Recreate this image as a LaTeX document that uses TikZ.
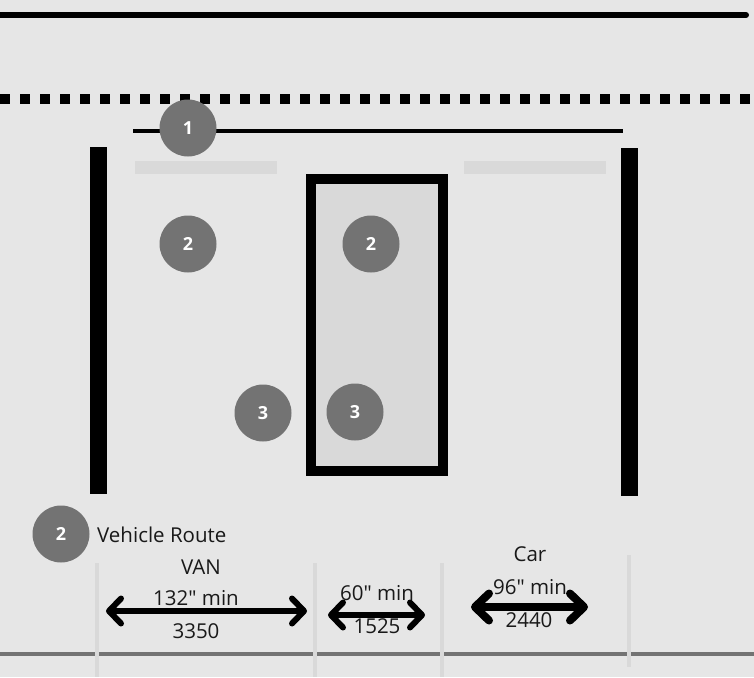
\documentclass[tikz,border=0pt]{standalone}
\usepackage{fontspec}
\newfontfamily\labfont{Open Sans}
\usepackage{xcolor}
\usetikzlibrary{arrows.meta}
\definecolor{paper}{HTML}{E6E6E6}
\definecolor{pale}{HTML}{D9D9D9}
\definecolor{badgegrey}{HTML}{737373}
\tikzset{
  wall/.style={fill=black},
  paleband/.style={fill=pale},
  badge/.style={circle, fill=badgegrey, text=white, minimum size=57pt, inner sep=0pt, font=\labfont\fontsize{18}{18}\selectfont\bfseries},
  lab/.style={text=black!90, inner sep=0pt, font=\labfont\fontsize{20.5}{21}\selectfont},
  tick/.style={draw=pale, line width=3.5pt},
  dimline/.style={draw=black, line width=6pt, {Straight Barb[round, length=12pt, width=25pt, line width=6pt]}-{Straight Barb[round, length=12pt, width=25pt, line width=6pt]}},
  dimwide/.style={draw=black, line width=8pt, {Straight Barb[round, length=14pt, width=27pt, line width=8pt]}-{Straight Barb[round, length=14pt, width=27pt, line width=8pt]}},
}
\begin{document}
\begin{tikzpicture}[x=1pt, y=-1pt]
  \fill[paper] (0,0) rectangle (754,677);
  \useasboundingbox (0,0) rectangle (754,677);

  % street edge and dotted line
  \draw[line width=6pt, line cap=round] (0,15)--(746,15);
  \draw[line width=10pt, dash pattern=on 10pt off 10pt] (0,99)--(754,99);
  \draw[line width=4pt] (133,130.5)--(623,130.5);

  % side walls and pale bands
  \fill[wall] (90,147) rectangle (107,494);
  \fill[wall] (621,148) rectangle (638,496);
  \fill[paleband] (135,161) rectangle (277,174);
  \fill[paleband] (464,161) rectangle (606,174);

  % middle bay
  \draw[line width=10pt, fill=pale] (311,179) rectangle (443,471);

  % ground line and ticks
  \draw[draw=badgegrey, line width=4pt] (0,654)--(754,654);
  \draw[tick] (97,563)--(97,677);
  \draw[tick] (315,563)--(315,677);
  \draw[tick] (442,563)--(442,677);
  \draw[tick] (629,555)--(629,667);

  \node[badge] (one) at (188,128) {1};
  \node[badge] (twoA) at (188,244) {2};
  \node[badge] (twoB) at (371,244) {2};
  \node[badge] (threeA) at (263,413) {3};
  \node[badge] (threeB) at (355,412) {3};
  \node[badge] (twoKey) at (61,534) {2};
  \node[lab, anchor=west] (route) at (97,535) {Vehicle Route};

  % widths
  \coordinate (vanL) at (106,611);
  \coordinate (vanR) at (307,611);
  \coordinate (midL) at (328,615);
  \coordinate (midR) at (425,615);
  \coordinate (carL) at (471,607);
  \coordinate (carR) at (588,607);
  \draw[dimline] (vanL)--(vanR);
  \draw[dimline] (midL)--(midR);
  \draw[dimwide] (carL)--(carR);

  \node[lab] (van) at (201,567) {VAN};
  \node[lab] (vanmin) at (196,598) {132" min};
  \node[lab] (vanmm) at (196,631) {3350};
  \node[lab] (midmin) at (377,593) {60" min};
  \node[lab] (midmm) at (377,626) {1525};
  \node[lab] (car) at (530,554) {Car};
  \node[lab] (carmin) at (530,587) {96" min};
  \node[lab] (carmm) at (529,620) {2440};
\end{tikzpicture}
\end{document}
